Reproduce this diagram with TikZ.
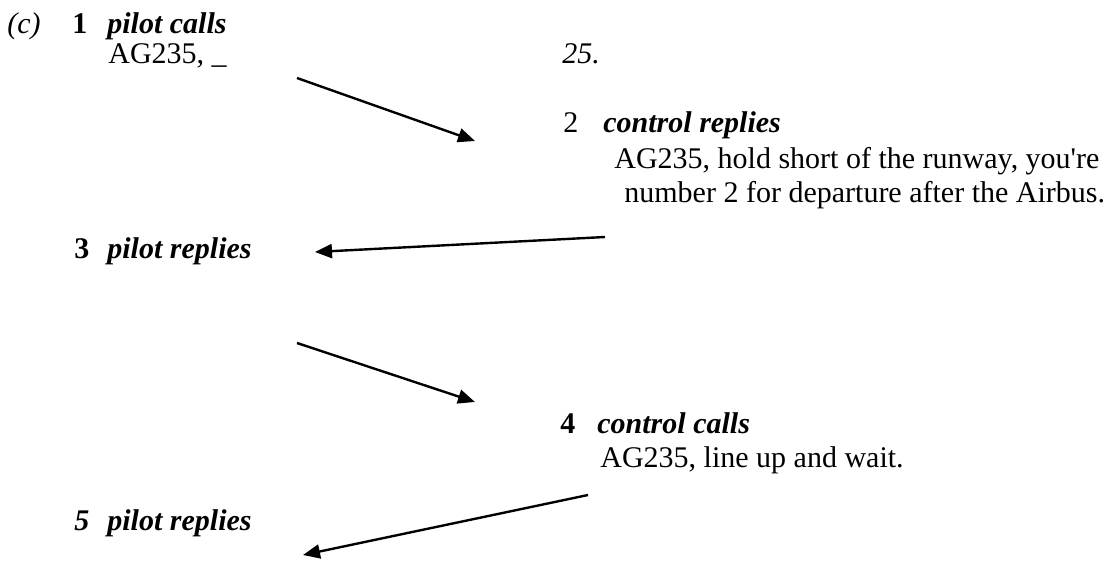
\documentclass[tikz,border=0pt]{standalone}
\usepackage{fontspec}
\setmainfont{Liberation Serif}
\usetikzlibrary{arrows.meta}
\newcommand{\txtsize}{\fontsize{15}{18}\selectfont}

\begin{document}
\begin{tikzpicture}[
  x=0.5pt, y=-0.5pt,
  txt/.style={anchor=base west, inner sep=0pt, font=\txtsize},
  num/.style={txt, font=\txtsize\bfseries},
  who/.style={txt, font=\txtsize\bfseries\itshape},
  ar/.style={-{Triangle[length=8.5pt, width=7pt]}, line width=1.2pt},
]
\useasboundingbox (0,0) rectangle (1115,562);

\node[txt, font=\txtsize\itshape] (part) at (7,33)  {(c)};
\node[num] (n1) at (72,33)   {1};
\node[who] (w1) at (107,33)  {pilot calls};
\node[txt] (m1) at (108,63)  {AG235, \_};
\node[txt, font=\txtsize\itshape] (m1b) at (562,63) {25.};

\node[txt] (n2) at (563,132) {2};
\node[who] (w2) at (603,132) {control replies};
\node[txt] (m2) at (614,168) {AG235, hold short of the runway, you\textquotesingle re};
\node[txt] (m2b) at (624,202) {number 2 for departure after the Airbus.};

\node[num] (n3) at (74,258)  {3};
\node[who] (w3) at (107,258) {pilot replies};

\node[num] (n4) at (560,433) {4};
\node[who] (w4) at (597,433) {control calls};
\node[txt] (m4) at (600,467) {AG235, line up and wait.};

\node[who] (n5) at (74,530)  {5};
\node[who] (w5) at (107,530) {pilot replies};

\coordinate (a1s) at (297,78);
\coordinate (a1e) at (475,141);
\coordinate (a2s) at (605,237);
\coordinate (a2e) at (315,252);
\coordinate (a3s) at (297,343);
\coordinate (a3e) at (475,402);
\coordinate (a4s) at (588,495);
\coordinate (a4e) at (303,555);

\draw[ar] (a1s) -- (a1e);
\draw[ar] (a2s) -- (a2e);
\draw[ar] (a3s) -- (a3e);
\draw[ar] (a4s) -- (a4e);
\end{tikzpicture}
\end{document}
